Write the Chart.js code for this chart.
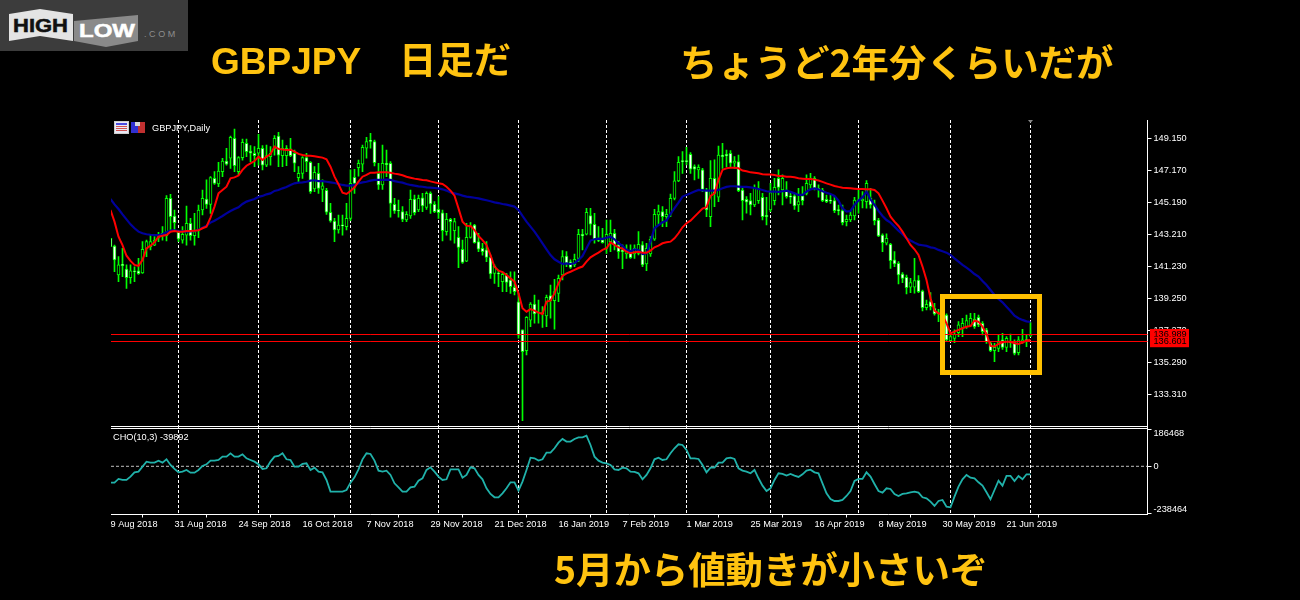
<!DOCTYPE html>
<html lang="ja">
<head>
<meta charset="utf-8">
<title>GBPJPY 日足</title>
<script src="https://cdn.jsdelivr.net/npm/chart.js@4/dist/chart.umd.min.js"></script>
<style>
html,body{margin:0;padding:0;background:#000;width:1300px;height:600px;overflow:hidden}
#stage{position:relative;width:1300px;height:600px;background:#000}
canvas{position:absolute;left:0;top:0}
.cap{position:absolute;color:#FFC310;font:700 37.4px "Noto Sans CJK JP","Noto Sans",sans-serif;line-height:40px;white-space:pre}
.lat{font:700 37px "Liberation Sans",sans-serif;line-height:40px}
#box{position:absolute;left:940px;top:294px;width:92px;height:71px;border:5px solid #FFC000}
#logo{position:absolute;left:0;top:0}
#legendIcons{position:absolute;left:114px;top:121px}
#legendText{position:absolute;left:152px;top:122px;color:#fff;font:9.2px "Liberation Sans",sans-serif;line-height:12px}
#choText{position:absolute;left:113px;top:431px;color:#fff;font:9.2px "Liberation Sans",sans-serif;line-height:12px}
</style>
</head>
<body>
<div id="stage">
<canvas id="c" width="1300" height="600"></canvas>
<svg id="logo" width="188" height="51" viewBox="0 0 188 51">
<rect width="188" height="51" fill="#3c3c3c"/>
<polygon points="9,14 40,9 73,14 73,41 40,36 9,41" fill="#e4e4e4"/>
<polygon points="74,21 138,15 138,41 106,47 74,41" fill="#8a8a8a"/>
<text x="13" y="32" font-family="Liberation Sans" font-weight="700" font-size="19" textLength="55" lengthAdjust="spacingAndGlyphs" fill="#111" stroke="#111" stroke-width="0.5">HIGH</text>
<text x="79" y="37" font-family="Liberation Sans" font-weight="700" font-size="19" textLength="56" lengthAdjust="spacingAndGlyphs" fill="#fff" stroke="#fff" stroke-width="0.5">LOW</text>
<text x="144" y="37" font-family="Liberation Sans" font-size="9" letter-spacing="2.6" fill="#8e8e8e">.COM</text>
</svg>
<svg id="legendIcons" width="33" height="14" viewBox="0 0 33 14">
<rect x="0.5" y="0.5" width="14" height="12" fill="#e8e8f4" stroke="#ccc"/>
<rect x="2" y="2" width="11" height="2" fill="#4a4ae0"/>
<rect x="2" y="5" width="11" height="1" fill="#d05050"/><rect x="2" y="7" width="11" height="1" fill="#d05050"/><rect x="2" y="9" width="11" height="1" fill="#d05050"/>
<rect x="17" y="1" width="7" height="11" fill="#3030d0"/><rect x="24" y="1" width="7" height="11" fill="#c03030"/>
<rect x="21" y="1" width="5" height="4" fill="#d8d8d8"/>
</svg>
<div id="legendText">GBPJPY,Daily</div>
<div id="choText">CHO(10,3) -39892</div>
<div class="cap" style="left:211px;top:38px"><span class="lat">GBPJPY</span></div>
<div class="cap" style="left:399px;top:38px">日足だ</div>
<div class="cap" style="left:680px;top:41px">ちょうど2年分くらいだが</div>
<div class="cap" style="left:554px;top:548px">5月から値動きが小さいぞ</div>
<div id="box"></div>
</div>
<script>
const opens=[142.97,142.49,140.70,141.36,141.07,140.53,140.95,140.95,140.82,142.31,
142.45,142.55,142.97,143.28,143.13,145.44,144.35,143.34,142.86,143.17,
143.90,143.13,143.42,144.72,145.40,145.07,146.68,146.33,147.09,147.75,
147.92,149.16,147.09,147.96,148.85,148.37,148.23,148.23,148.54,147.50,
148.02,148.50,149.30,148.08,148.08,148.50,148.23,146.72,146.99,147.96,
147.67,146.02,146.99,146.00,145.94,144.58,144.04,143.48,143.78,143.69,
144.20,146.74,147.34,147.55,148.54,149.01,148.95,146.99,146.27,147.61,
147.61,145.07,144.72,144.62,144.10,144.35,145.40,144.72,145.48,144.88,
145.75,145.07,144.76,144.55,143.38,144.14,143.44,143.03,142.29,141.56,
143.03,143.79,142.76,142.35,142.25,141.79,140.80,140.80,140.29,140.70,
140.39,139.94,139.04,137.30,136.01,137.91,138.90,138.37,138.37,138.16,
139.42,139.11,139.56,140.70,141.87,141.52,141.32,141.73,143.22,143.22,
144.37,143.84,142.91,142.87,142.35,142.76,143.28,142.56,142.25,142.00,
142.04,142.00,142.04,142.56,141.38,142.00,142.91,144.41,144.62,144.31,
144.48,145.44,146.52,147.75,147.78,148.17,147.40,147.20,147.20,145.96,
144.31,146.68,145.51,148.12,148.17,148.23,147.61,147.71,145.96,145.38,
145.30,145.03,145.30,145.51,144.39,144.72,145.30,146.68,145.96,145.96,
145.59,145.59,145.03,145.59,145.75,146.27,146.68,146.06,145.96,145.38,
145.34,145.30,144.72,144.68,144.00,144.10,144.35,145.34,145.30,145.24,
145.44,145.03,144.10,143.17,142.66,142.60,141.63,141.42,140.76,140.56,
139.94,139.94,140.39,139.71,138.68,139.05,138.64,138.33,138.33,138.22,
136.64,136.78,137.13,137.40,137.50,137.57,137.96,138.08,137.71,137.30,
136.47,136.02,136.16,136.68,136.22,136.57,136.51,135.89,136.57,136.68,136.95];
const closes=[142.45,141.63,141.32,141.28,140.53,140.95,140.90,140.78,142.29,142.76,
142.76,142.86,143.17,143.13,145.44,144.31,143.94,142.93,143.22,143.90,
143.13,143.38,144.72,145.44,145.07,146.72,146.37,147.13,147.75,147.55,
149.22,147.46,147.96,148.91,148.33,148.23,148.08,148.54,147.50,148.08,
148.23,149.16,148.12,148.54,148.54,148.08,147.61,146.99,147.96,147.71,
145.85,147.05,146.06,146.21,144.58,144.04,143.48,143.79,143.74,144.20,
146.37,146.37,147.61,148.60,148.95,148.97,147.65,146.27,147.61,147.52,
145.13,144.66,144.66,144.14,144.45,145.38,144.55,145.44,144.97,145.75,
145.09,144.62,144.55,143.44,144.14,144.00,144.00,142.41,141.48,143.03,
143.73,142.70,142.29,142.14,141.79,140.76,141.25,140.76,140.74,140.24,
139.98,139.67,136.98,135.96,138.08,138.90,138.29,138.33,138.29,139.32,
139.11,139.67,140.49,141.83,141.42,141.17,141.67,143.21,143.12,144.58,
143.84,142.91,142.83,142.70,143.22,143.28,142.56,142.14,142.14,142.21,
141.77,142.35,142.60,141.32,142.35,142.91,144.45,144.62,144.31,144.45,
145.44,146.52,147.67,147.71,147.71,147.24,147.24,147.36,146.00,144.72,
146.68,145.75,148.12,148.02,148.06,147.61,147.75,145.92,145.30,145.20,
145.03,146.06,146.06,144.31,144.31,145.79,146.12,146.12,146.68,145.55,
145.51,144.97,145.24,145.30,146.37,146.68,146.06,146.00,145.30,145.24,
145.26,144.68,144.68,143.94,144.14,144.41,145.34,145.28,145.38,146.37,
145.03,144.06,143.11,142.70,142.97,141.59,141.38,140.70,140.49,139.92,
140.23,140.35,139.67,138.68,138.89,138.74,138.29,138.29,138.22,136.68,
136.88,137.05,137.61,137.71,137.87,138.02,137.50,137.61,137.19,136.57,
136.02,136.22,136.57,136.22,136.78,136.51,135.85,136.68,136.68,136.64,136.989];
const highs=[142.97,142.55,141.83,142.35,141.32,141.32,141.21,141.73,142.76,142.86,
143.17,143.07,143.34,143.69,145.61,145.69,144.72,143.38,143.69,144.97,
144.20,144.51,145.03,145.96,146.58,146.78,147.09,147.67,147.92,148.54,
149.30,149.73,148.02,149.11,149.11,148.70,148.64,149.40,148.70,148.74,
148.64,149.32,149.53,149.05,148.70,149.16,148.43,147.40,148.02,148.23,
147.71,147.40,147.61,146.58,146.06,145.13,144.20,144.41,144.41,145.13,
147.20,147.24,147.81,148.74,149.22,149.46,149.05,147.61,148.74,148.43,
147.71,145.44,145.34,144.93,144.62,145.96,145.65,145.65,145.75,145.85,
145.85,145.24,145.55,144.72,144.51,144.20,144.20,143.69,142.86,143.90,
143.94,143.83,143.28,142.66,142.76,141.93,141.32,141.01,140.90,140.80,
140.90,140.90,139.56,137.30,138.12,138.99,139.46,139.15,138.74,139.46,
140.08,140.43,140.70,142.21,142.14,141.63,142.00,143.52,143.53,144.83,
144.83,144.52,143.69,143.59,144.10,144.10,143.53,142.76,142.56,142.56,
142.56,142.56,143.38,142.76,142.66,143.07,144.76,145.03,144.93,144.76,
145.71,147.09,148.02,148.33,148.60,148.27,147.51,147.51,147.30,146.06,
147.78,147.82,148.68,148.85,148.43,148.39,148.02,148.12,146.06,145.55,
145.75,146.27,146.48,145.75,145.51,146.37,146.68,147.20,146.89,146.48,
145.86,145.75,146.06,146.17,146.89,146.99,146.78,146.27,146.06,145.65,
145.65,145.55,145.03,145.03,144.41,144.62,145.51,145.96,145.86,146.54,
146.06,145.34,144.21,143.24,143.24,142.66,142.14,141.53,140.85,140.70,
140.49,141.73,140.66,139.77,139.15,139.61,138.95,138.58,138.53,138.29,
137.09,137.30,137.81,138.02,138.22,138.33,138.33,138.22,137.81,137.40,
136.57,136.47,136.99,137.09,136.88,137.05,136.68,136.88,137.34,136.99,137.75];
const lows=[142.45,140.90,140.29,140.60,139.87,140.18,140.29,140.74,140.80,141.83,
142.25,142.51,142.76,142.86,142.80,143.42,143.42,142.76,142.66,142.55,
142.86,142.55,143.01,144.41,144.82,144.51,146.31,146.16,146.78,147.50,
147.30,147.09,146.89,147.81,148.02,147.71,147.40,147.50,147.20,147.40,
147.50,148.12,147.40,147.40,147.46,148.02,147.09,146.43,146.68,147.09,
145.75,145.85,145.75,145.24,144.45,143.96,142.76,143.28,143.17,143.48,
144.06,145.75,146.82,147.09,147.92,148.54,147.44,146.00,146.00,146.78,
144.27,144.51,144.27,144.00,144.00,144.20,144.41,144.62,144.62,144.76,
144.51,144.55,144.20,142.80,143.17,142.86,142.66,141.15,141.42,141.52,
142.97,142.66,142.14,141.93,141.52,140.49,140.18,139.98,139.67,139.67,
139.56,139.46,136.79,131.68,135.75,137.50,137.71,137.71,137.46,137.50,
138.02,137.34,139.05,140.39,141.21,141.11,141.21,141.52,142.25,143.18,
143.18,142.66,142.76,142.66,142.04,142.14,142.25,141.73,141.09,141.73,
141.73,141.73,141.94,141.22,140.97,141.84,142.83,143.79,143.69,143.69,
144.31,145.34,146.48,146.99,147.51,146.99,146.58,146.68,145.86,144.31,
143.69,144.93,145.24,147.30,147.40,147.40,147.30,145.86,144.10,144.52,
144.41,144.93,145.13,144.10,143.79,144.62,145.03,145.65,145.03,145.45,
145.13,144.76,144.62,145.03,145.65,146.06,145.96,145.51,145.24,145.18,
145.13,144.56,144.41,143.79,143.73,144.00,144.10,144.52,144.85,144.83,
144.83,143.79,143.07,142.14,142.56,141.11,141.22,140.14,140.23,139.52,
139.61,139.57,139.61,138.47,138.53,138.53,138.22,137.81,137.81,136.57,
136.57,136.51,136.88,136.88,137.40,137.50,137.40,137.50,136.99,136.47,
135.96,135.34,135.96,136.10,135.96,136.22,135.75,135.75,136.47,136.27,136.88];
const redMA=[144.72,144.00,143.07,142.55,141.89,141.57,141.32,141.26,141.63,142.35,142.51,142.72,143.07,143.13,143.17,143.38,143.42,143.38,143.38,143.42,143.42,143.44,143.46,143.59,143.69,144.25,144.93,145.75,145.96,146.16,146.68,146.74,146.85,147.20,147.46,147.61,147.75,148.02,147.81,148.02,148.17,148.64,148.50,148.47,148.43,148.45,148.33,148.19,148.12,148.08,148.08,148.04,148.00,147.96,147.86,147.40,146.78,146.31,145.79,145.71,
145.90,146.12,146.47,146.78,146.89,147.03,147.03,147.05,147.05,147.05,147.03,146.97,146.93,146.87,146.78,146.72,146.66,146.62,146.58,146.56,146.49,146.43,146.37,146.33,146.16,145.92,145.61,144.82,144.00,143.75,143.73,143.48,143.11,142.86,142.56,141.93,141.21,140.97,140.88,140.70,140.49,140.29,139.56,138.64,138.43,138.59,138.49,138.37,138.29,139.05,139.11,139.56,140.18,140.64,140.80,140.90,141.01,141.13,
141.22,141.53,141.79,141.94,142.08,142.25,142.35,142.72,142.56,142.41,142.33,142.14,142.04,142.10,142.14,142.08,142.08,142.21,142.41,142.52,142.66,142.72,142.76,142.97,143.28,143.65,143.90,144.06,144.31,144.56,144.81,144.89,145.59,145.75,146.58,147.20,147.30,147.34,147.34,147.30,147.16,147.12,147.05,147.03,146.99,146.93,146.91,146.91,146.89,146.83,146.83,146.78,146.78,146.74,146.68,
146.66,146.64,146.64,146.60,146.54,146.46,146.37,146.29,146.21,146.15,146.10,146.08,146.06,146.04,146.02,146.02,146.00,146.00,145.96,145.75,145.30,144.83,144.31,144.00,143.73,143.38,142.97,142.56,142.29,141.94,141.22,140.39,139.26,138.49,138.33,138.22,137.71,137.09,137.19,137.30,137.40,137.50,137.54,137.87,137.81,137.50,137.05,136.31,136.27,136.43,136.53,136.57,136.57,136.47,136.43,136.51,136.64,136.68];
const blueMA=[145.40,145.07,144.78,144.45,144.14,143.83,143.59,143.38,143.28,143.22,143.19,143.17,143.17,143.22,143.34,143.44,143.46,143.42,143.40,143.38,143.40,143.42,143.50,143.63,143.75,143.94,144.06,144.20,144.35,144.51,144.66,144.78,144.89,145.09,145.24,145.32,145.40,145.53,145.59,145.69,145.75,145.90,145.96,146.06,146.14,146.27,146.37,146.41,146.43,146.47,146.54,146.56,146.51,146.51,146.47,146.43,146.39,146.33,146.27,146.23,
146.23,146.27,146.37,146.43,146.47,146.54,146.58,146.58,146.58,146.60,146.58,146.51,146.45,146.41,146.33,146.27,146.23,146.18,146.16,146.12,146.10,146.08,146.06,146.00,145.92,145.81,145.75,145.69,145.61,145.55,145.52,145.48,145.44,145.38,145.32,145.26,145.19,145.15,145.09,145.05,144.99,144.93,144.72,144.35,144.00,143.69,143.38,143.03,142.66,142.29,141.93,141.67,141.52,141.38,141.42,141.38,141.42,141.63,
141.87,142.35,142.83,142.91,142.95,142.93,143.00,143.07,142.91,142.66,142.50,142.25,142.17,142.29,142.25,142.00,142.04,142.76,143.59,143.79,143.96,144.06,144.48,144.83,145.18,145.55,145.65,145.75,145.86,145.96,145.94,145.92,145.92,145.92,145.96,146.06,146.15,146.19,146.19,146.17,146.15,146.15,146.12,146.08,146.02,145.96,145.88,145.86,145.86,145.84,145.88,145.92,145.84,145.75,145.65,
145.65,145.86,146.00,146.06,146.00,145.88,145.79,145.71,145.59,145.30,144.83,144.62,144.66,145.03,145.30,145.51,145.86,145.38,145.03,144.66,144.35,144.10,143.94,143.69,143.44,143.22,142.97,142.83,142.70,142.58,142.54,142.50,142.41,142.37,142.25,142.17,142.08,141.94,141.73,141.53,141.32,141.15,140.97,140.76,140.60,140.33,140.08,139.77,139.46,139.21,139.01,138.74,138.47,138.18,138.02,137.92,137.83,137.79];
const cho=[-81700,-81700,-63300,-68300,-68300,-51700,-30000,-26700,-1700,23300,18300,18300,28300,18300,35000,6700,-13300,-30000,-26700,-18300,-31700,-31700,-18300,1700,10000,28300,28300,31700,48300,48300,65000,48300,48300,60000,40000,31700,23300,10000,-13300,-10000,23300,48300,51700,65000,35000,31700,-1700,-1700,11700,15000,-18300,-6700,-26700,-30000,-68300,-126700,-126700,-126700,-126700,-118400,
-81700,-55000,-15000,35000,65000,61700,28300,-21700,-26700,-21700,-43300,-85000,-105000,-126700,-126700,-105000,-101700,-71700,-60000,-18300,-5000,-26700,-51700,-68300,-65000,-15000,-15000,-15000,-56700,-43300,-5000,-10000,-43300,-65000,-110000,-138400,-155000,-155000,-135000,-110000,-80000,-80000,-121700,-76700,-18300,43300,40000,28300,35000,68300,68300,90000,118400,136700,123400,123400,136700,145000,145000,153400,
106700,48300,28300,18300,15000,6700,-15000,-18300,-6700,-10000,-26700,-28300,-35000,-65000,-43300,-10000,35000,43300,31700,35000,65000,90000,110000,106700,81700,40000,40000,36700,6700,-30000,-6700,-6700,18300,18300,40000,43300,36700,-10000,-21700,-26700,-35000,-18300,-60000,-96700,-123400,-110000,-68300,-35000,-38300,-46700,-38300,-46700,-53300,-40000,-21700,-16700,-30000,-35000,-85000,-135000,-163400,-173400,-173400,-168400,-148400,-123400,-73300,-63300,-63300,-30000,-51700,-88400,-123400,-131700,-110000,-113400,-138400,-148400,-138400,-135000,-130000,-126700,-131700,-155000,-160000,-176700,-198400,-173400,-168400,-201700,-205000,-151700,-101700,-65000,-43300,-56700,-60000,-80000,-96700,-130000,-165000,-118400,-71700,-96700,-48300,-48300,-73300,-48300,-65000,-40000,-39892];
const priceTicks=[149.15,147.17,145.19,143.21,141.23,139.25,137.27,135.29,133.31];
const choTicks=[186468,0,-238464];
const dateTickBars=[0,16,32,48,64,80,96,112,128,144,160,176,192,208,224];
const dateTickLabels=["9 Aug 2018","31 Aug 2018","24 Sep 2018","16 Oct 2018","7 Nov 2018","29 Nov 2018","21 Dec 2018","16 Jan 2019","7 Feb 2019","1 Mar 2019","25 Mar 2019","16 Apr 2019","8 May 2019","30 May 2019","21 Jun 2019"];
const separatorBars=[17,37,60,82,102,124,144,165,187,210,230];
const priceLines=[136.989,136.601];
const lastBar=230;

const FONT='"Liberation Sans",sans-serif';
const FS=9.2;
const bars=opens.map((_,i)=>i);
const G='#00FF00';

const framePlugin={
  id:'frame',
  beforeDatasetsDraw(ch){
    const {ctx,scales:{x,y,y2}}=ch;
    ctx.save();
    ctx.strokeStyle='#fff';ctx.lineWidth=1;ctx.setLineDash([3,2]);
    separatorBars.forEach(b=>{
      const px=Math.floor(x.getPixelForValue(b))+.5;
      ctx.beginPath();ctx.moveTo(px,y.top);ctx.lineTo(px,y2.bottom);ctx.stroke();
    });
    ctx.setLineDash([]);
    ctx.restore();
  },
  afterDraw(ch){
    const {ctx,scales:{x,y,y2}}=ch;
    ctx.save();
    ctx.strokeStyle='#fff';ctx.lineWidth=1;
    [y.bottom-1,y.bottom+1].forEach(v=>{
      const py=Math.floor(v)+.5;
      ctx.beginPath();ctx.moveTo(x.left,py);ctx.lineTo(x.right,py);ctx.stroke();
    });
    ctx.strokeStyle='#FF0000';
    priceLines.forEach(p=>{
      const py=Math.floor(y.getPixelForValue(p))+.5;
      ctx.beginPath();ctx.moveTo(x.left,py);ctx.lineTo(x.right,py);ctx.stroke();
    });
    ctx.font=FS+'px '+FONT;ctx.textBaseline='middle';ctx.textAlign='left';
    priceLines.forEach((p,k)=>{
      const py=y.getPixelForValue(p);
      const top=k===0?py-6:py-4.5, h=k===0?12:10.5;
      ctx.fillStyle='#FF0000';ctx.fillRect(x.right+2.5,top,39,h);
      ctx.fillStyle='#000';ctx.fillText(p.toFixed(3),x.right+6,py);
    });
    const mx=x.getPixelForValue(lastBar);
    ctx.fillStyle='#8a8a8a';
    ctx.beginPath();ctx.moveTo(mx-2.5,y.top);ctx.lineTo(mx+2.5,y.top);ctx.lineTo(mx,y.top+3);ctx.closePath();ctx.fill();
    ctx.restore();
  }
};

new Chart(document.getElementById('c'),{
  data:{datasets:[
    {type:'line',label:'CHO',yAxisID:'y2',data:bars.map(i=>({x:i,y:cho[i]})),borderColor:'#20B2AA',borderWidth:1.8,pointRadius:0,tension:0,order:0},
    {type:'line',label:'level',yAxisID:'y2',data:[{x:0.125,y:0},{x:259.25,y:0}],borderColor:'#bdbdbd',borderWidth:1,borderDash:[3,2],pointRadius:0,order:1},
    {type:'line',label:'MA fast',yAxisID:'y',data:bars.map(i=>({x:i,y:redMA[i]})),borderColor:'#FF0000',borderWidth:2,pointRadius:0,tension:0,order:2},
    {type:'line',label:'MA slow',yAxisID:'y',data:bars.map(i=>({x:i,y:blueMA[i]})),borderColor:'#00009C',borderWidth:2.2,pointRadius:0,tension:0,order:3},
    {type:'bar',label:'body',yAxisID:'y',grouped:false,barThickness:3,minBarLength:1,borderWidth:1,borderSkipped:false,borderColor:G,
      backgroundColor:c=>(c.raw&&c.raw.bear)?'#fff':'#000',
      data:bars.map(i=>({x:i,y:[opens[i],closes[i]],bear:opens[i]>closes[i]})),order:4},
    {type:'bar',label:'wick',yAxisID:'y',grouped:false,barThickness:1,borderWidth:0,backgroundColor:G,
      data:bars.map(i=>({x:i,y:[lows[i],highs[i]]})),order:5}
  ]},
  options:{
    responsive:false,animation:false,events:[],
    layout:{autoPadding:false,padding:{left:111,top:120,right:0,bottom:65.5}},
    plugins:{legend:{display:false},tooltip:{enabled:false},title:{display:false}},
    scales:{
      x:{type:'linear',min:0.125,max:259.25,offset:false,
        afterBuildTicks:s=>{s.ticks=dateTickBars.map(v=>({value:v}));},
        afterFit:s=>{s.height=20;},
        grid:{drawOnChartArea:false,drawTicks:true,tickLength:3,color:'#fff'},
        border:{color:'#fff',width:1},
        ticks:{color:'#fff',font:{family:FONT,size:FS},autoSkip:false,maxRotation:0,minRotation:0,align:'start',padding:1,
          callback:v=>dateTickLabels[dateTickBars.indexOf(v)]}
      },
      y:{type:'linear',position:'right',stack:'panes',stackWeight:307.5,min:131.262,max:150.2885,
        afterBuildTicks:s=>{s.ticks=priceTicks.map(v=>({value:v}));},
        afterFit:s=>{s.width=152.5;},
        grid:{drawOnChartArea:false,tickLength:4,color:'#fff'},
        border:{color:'#fff',width:1},
        ticks:{color:'#fff',font:{family:FONT,size:FS},autoSkip:false,padding:2,callback:v=>v.toFixed(3)}
      },
      y2:{type:'linear',position:'right',stack:'panes',stackWeight:87,min:-241000,max:194000,
        afterBuildTicks:s=>{s.ticks=choTicks.map(v=>({value:v}));},
        afterFit:s=>{s.width=152.5;},
        grid:{drawOnChartArea:false,tickLength:4,color:'#fff'},
        border:{color:'#fff',width:1},
        ticks:{color:'#fff',font:{family:FONT,size:FS,lineHeight:0.9},autoSkip:false,padding:2,
          callback:v=>v>0?['',String(v)]:(v<0?[String(v),'']:String(v))}
      }
    }
  },
  plugins:[framePlugin]
});
</script>
</body>
</html>
